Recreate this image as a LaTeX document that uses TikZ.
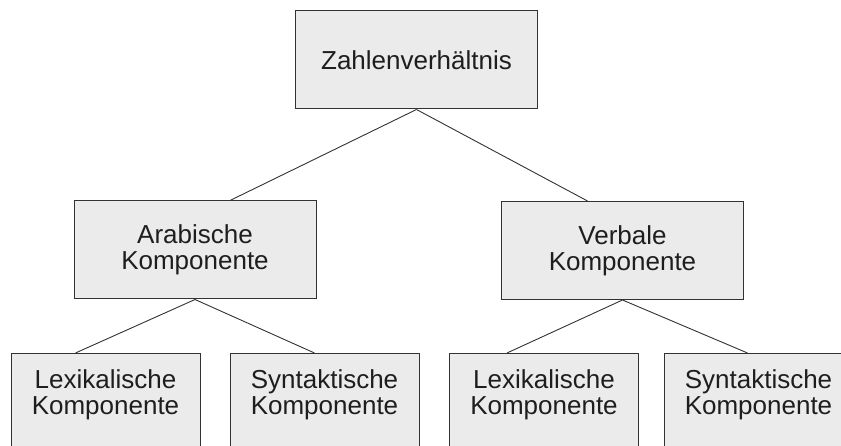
\documentclass[tikz,border=0pt]{standalone}
\usepackage{fontspec}
\setmainfont{Liberation Sans}
\definecolor{boxfill}{RGB}{235,235,235}
\definecolor{boxline}{RGB}{50,50,50}
\definecolor{ink}{RGB}{30,30,30}
\usetikzlibrary{calc}

\begin{document}
\begin{tikzpicture}[x=1pt, y=-1pt, every node/.style={font=\fontsize{26}{26}\selectfont, text=ink},
    kbox/.style={draw=boxline, fill=boxfill, line width=1pt, minimum height=98pt, inner sep=0pt, align=center},
    widebox/.style={kbox, minimum width=242pt},
    smallbox/.style={kbox, minimum width=189pt, anchor=north, text depth=20pt},
    link/.style={draw=boxline, line width=0.9pt}]
    \useasboundingbox (0,0) rectangle (841,446);
    \clip (0,0) rectangle (841,446);
    % top level
    \node[widebox] (zahl) at (416.5,60) {Zahlenverhältnis};
    % second level
    \node[widebox] (arab) at (195,250) {Arabische\\Komponente};
    \node[widebox] (verb) at (622.5,250.5) {Verbale\\Komponente};
    % third level
    \node[smallbox] (lexa) at (105.5,353) {Lexikalische\\Komponente};
    \node[smallbox] (syna) at (324.5,353) {Syntaktische\\Komponente};
    \node[smallbox] (lexb) at (544,353) {Lexikalische\\Komponente};
    \node[smallbox] (synb) at (758.5,353) {Syntaktische\\Komponente};
    % connections
    \draw[link] (zahl.south) -- ([xshift=35pt]arab.north);
    \draw[link] (zahl.south) -- ([xshift=-35pt]verb.north);
    \draw[link] (arab.south) -- ([xshift=-30pt]lexa.north);
    \draw[link] (arab.south) -- ([xshift=-10pt]syna.north);
    \draw[link] (verb.south) -- ([xshift=-37pt]lexb.north);
    \draw[link] (verb.south) -- ([xshift=-11pt]synb.north);
\end{tikzpicture}
\end{document}
